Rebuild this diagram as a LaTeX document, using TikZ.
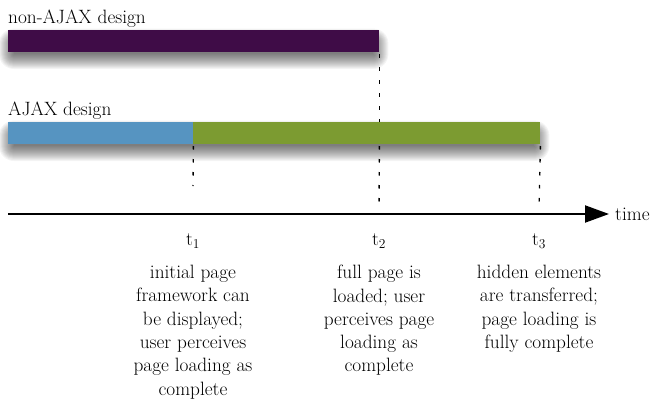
\documentclass[tikz,border=0pt]{standalone}
\usepackage{fontspec}
\usetikzlibrary{positioning, arrows.meta}
\pgfdeclarelayer{background}
\pgfsetlayers{background,main}
\definecolor{njpurple}{HTML}{3F0C47}
\definecolor{ajblue}{HTML}{5694C1}
\definecolor{ajgreen}{HTML}{7C9B31}
\tikzset{
x=1pt, y=1pt, % one unit is one pixel of the layout
bar/.style={inner sep=0pt, minimum height=22pt, anchor=south west}, % the coloured bars
haze/.style={black, fill opacity=0.045}, % one layer of the soft shadow
guide/.style={line width=1.4pt, dash pattern=on 3.5pt off 9.5pt, dash phase=-2pt}, % the dotted marks
lbl/.style={font=\rmfamily\fontsize{19.3}{23.3}\selectfont, inner sep=0pt}, % every text
note/.style={lbl, align=center, anchor=north}, % the text under a point in time
}
\begin{document}
\begin{tikzpicture}
  \useasboundingbox (0,0) rectangle (655,400);

  % Bars
  \node[bar, fill=njpurple, minimum width=371pt] (nj) at (8,348) {};
  \node[lbl, anchor=base west] (njl) at (8,376) {non-AJAX design};
  \node[bar, fill=ajgreen, minimum width=532pt] (aj) at (8,256) {};
  \node[bar, fill=ajblue, minimum width=185pt] (ajb) at (aj.south west) {};
  \node[lbl, anchor=base west] (ajl) at (8,285) {AJAX design};

  % Shadows under the bars
  \begin{pgfonlayer}{background}
    \foreach \b in {nj,aj}
      \foreach \i in {0,...,15}
        \fill[haze, rounded corners=\i pt] ([shift={(6-\i,-2-\i)}]\b.south west) rectangle ([shift={(\i-6,\i-14)}]\b.north east);
  \end{pgfonlayer}

  % Time axis
  \coordinate (o) at (8,186);
  \coordinate (tip) at (609,186);
  \draw[line width=2pt, -{Triangle[length=24pt,width=17pt]}] (o) -- (tip);
  \node[lbl, anchor=base west] (time) at (615,180) {time};

  % Points in time
  \coordinate (e1) at (193,214);
  \coordinate (e2) at (379,192);
  \coordinate (e3) at (539,190);
  \draw[guide] (ajb.south east) -- (e1);
  \draw[guide] (nj.south east) -- (nj.south east |- aj.north);
  \draw[guide] (nj.south east |- aj.south) -- (e2);
  \draw[guide] (aj.south east) -- (e3);

  \node[lbl, anchor=base] (t1) at (193,155) {t\textsubscript{1}};
  \node[lbl, anchor=base] (t2) at (379,155) {t\textsubscript{2}};
  \node[lbl, anchor=base] (t3) at (539,155) {t\textsubscript{3}};

  \node[note] (n1) at (193,135) {initial page\\framework can\\be displayed;\\user perceives\\page loading as\\complete};
  \node[note] (n2) at (379,135) {full page is\\loaded; user\\perceives page\\loading as\\complete};
  \node[note] (n3) at (539,135) {hidden elements\\are transferred;\\page loading is\\fully complete};
\end{tikzpicture}
\end{document}
